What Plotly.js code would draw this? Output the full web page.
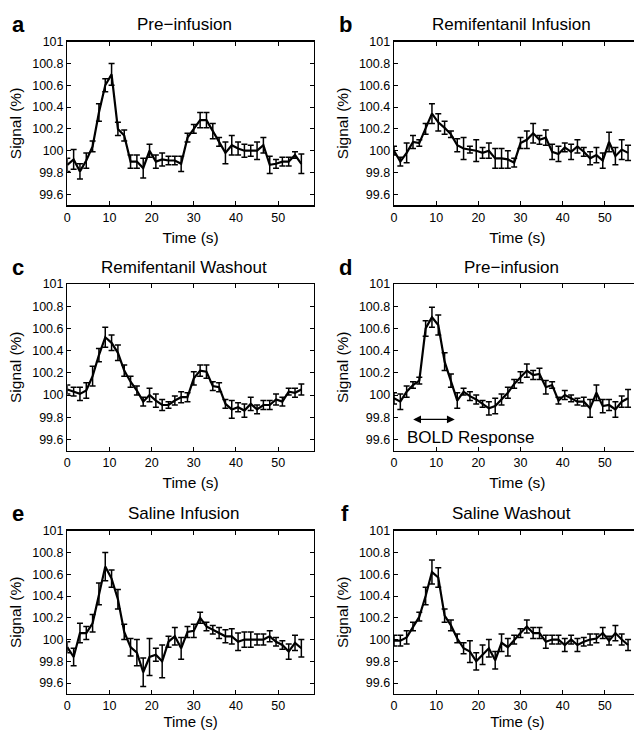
<!DOCTYPE html>
<html>
<head>
<meta charset="utf-8">
<script src="https://cdn.plot.ly/plotly-3.0.1.min.js"></script>
<style>
html,body{margin:0;padding:0;overflow:hidden;background:#fff;width:634px;height:731px;}
#chart{width:642px;height:731px;}
</style>
</head>
<body>
<div id="chart"></div>
<script>
// ---- data ----
const time = [0,1.5,3,4.5,6,7.5,9,10.5,12,13.5,15,16.5,18,19.5,21,22.5,24,25.5,27,28.5,30,31.5,33,34.5,36,37.5,39,40.5,42,43.5,45,46.5,48,49.5,51,52.5,54,55.5];

const panelLetters = ["a","b","c","d","e","f"];
const panelTitles = ["Pre\u2212infusion","Remifentanil Infusion","Remifentanil Washout","Pre\u2212infusion","Saline Infusion","Saline Washout"];

const sigA = [99.87,99.92,99.81,99.91,100.04,100.35,100.6,100.7,100.2,100.14,99.9,99.9,99.84,100.0,99.9,99.92,99.91,99.91,99.88,100.12,100.2,100.28,100.28,100.18,100.08,99.98,100.05,100.02,100.0,100.0,100.0,100.05,99.87,99.88,99.9,99.9,99.96,99.88];
const errA = [0.06,0.09,0.07,0.07,0.05,0.08,0.06,0.1,0.06,0.05,0.06,0.06,0.09,0.06,0.06,0.06,0.04,0.04,0.07,0.04,0.04,0.07,0.07,0.07,0.04,0.1,0.09,0.06,0.06,0.05,0.08,0.07,0.08,0.04,0.04,0.04,0.03,0.09];

const sigB = [100.0,99.9,99.98,100.08,100.07,100.2,100.34,100.26,100.21,100.15,100.05,100.02,100.01,100.0,99.98,100.0,99.93,99.93,99.92,99.89,100.07,100.1,100.16,100.1,100.12,99.99,99.97,100.03,99.99,100.04,99.99,99.93,99.96,99.91,100.08,99.95,100.01,99.98];
const errB = [0.04,0.04,0.09,0.06,0.03,0.05,0.09,0.08,0.06,0.03,0.06,0.1,0.03,0.1,0.05,0.07,0.09,0.09,0.08,0.04,0.05,0.08,0.09,0.04,0.07,0.07,0.07,0.04,0.07,0.06,0.04,0.06,0.07,0.07,0.09,0.08,0.09,0.07];

const sigC = [100.05,100.03,100.01,100.04,100.17,100.36,100.52,100.47,100.38,100.22,100.12,100.04,99.94,100.0,99.95,99.91,99.91,99.95,99.98,99.98,100.15,100.22,100.21,100.08,100.07,99.92,99.87,99.89,99.86,99.92,99.87,99.91,99.91,99.96,99.94,100.03,100.02,100.05];
const errC = [0.04,0.04,0.06,0.07,0.09,0.06,0.09,0.07,0.07,0.05,0.05,0.04,0.04,0.06,0.06,0.05,0.03,0.04,0.05,0.04,0.06,0.05,0.06,0.04,0.04,0.04,0.08,0.04,0.06,0.06,0.04,0.04,0.04,0.05,0.04,0.03,0.04,0.05];

const sigD = [99.97,99.94,100.03,100.09,100.13,100.6,100.7,100.63,100.3,100.13,99.95,100.03,99.99,99.96,99.92,99.88,99.9,99.96,100.02,100.1,100.16,100.22,100.18,100.19,100.07,100.09,99.95,100.0,99.97,99.94,99.94,99.88,100.02,99.9,99.91,99.87,99.94,99.97];
const errD = [0.05,0.07,0.05,0.03,0.03,0.07,0.09,0.09,0.08,0.06,0.07,0.03,0.04,0.04,0.03,0.06,0.07,0.05,0.05,0.04,0.05,0.06,0.04,0.05,0.06,0.03,0.03,0.04,0.03,0.03,0.04,0.08,0.07,0.06,0.05,0.07,0.05,0.08];

const sigE = [99.93,99.84,100.06,100.06,100.15,100.42,100.67,100.56,100.37,100.07,99.93,99.88,99.7,99.84,99.86,99.8,99.98,100.03,99.92,100.07,100.08,100.2,100.12,100.09,100.06,100.03,100.03,99.98,100.0,100.0,100.0,100.0,100.03,99.98,99.95,99.89,99.97,99.92];
const errE = [0.05,0.08,0.09,0.06,0.08,0.1,0.13,0.08,0.09,0.07,0.08,0.12,0.13,0.17,0.06,0.15,0.05,0.08,0.1,0.05,0.06,0.05,0.04,0.04,0.05,0.06,0.07,0.08,0.07,0.07,0.05,0.05,0.05,0.04,0.04,0.07,0.07,0.08];

const sigF = [99.99,99.99,100.02,100.12,100.21,100.4,100.62,100.57,100.22,100.13,100.01,99.92,99.89,99.8,99.86,99.92,99.81,99.97,99.93,100.0,100.06,100.12,100.06,100.06,99.98,100.0,100.0,99.95,100.0,99.95,99.98,100.0,100.01,100.06,99.99,100.06,100.0,99.95];
const errF = [0.05,0.05,0.06,0.04,0.04,0.08,0.11,0.09,0.06,0.05,0.04,0.05,0.1,0.08,0.09,0.08,0.08,0.08,0.08,0.04,0.04,0.06,0.05,0.05,0.06,0.04,0.04,0.06,0.04,0.06,0.04,0.05,0.04,0.05,0.04,0.07,0.05,0.05];

const yTickVals = [99.6,99.8,100,100.2,100.4,100.6,100.8,101];
const yTickText = ["99.6","99.8","100","100.2","100.4","100.6","100.8","101"];
const xTickVals = [0,10,20,30,40,50];
const xTickText = ["0","10","20","30","40","50"];

const boldLabel = "BOLD Response";
const boldArrowFrom = 4.2, boldArrowTo = 14.4, boldArrowLevel = 99.78;
const boldTextX = 18.2, boldTextY = 99.62;

// ---- layout ----
const W = 642, H = 731;
const FONT = "'Liberation Sans', Arial, Helvetica, sans-serif";
const colPx = [[67.3, 314.0],[394.0, 640.7]];
const rowPx = [[41.7, 205.2],[284.0, 450.5],[530.7, 694.0]];
const xTitleStandoff = [8, 8, 3];

const series = [[sigA,errA],[sigB,errB],[sigC,errC],[sigD,errD],[sigE,errE],[sigF,errF]];

const traces = [];
const layout = {
  width: W, height: H,
  margin: {l:0,r:0,t:0,b:0},
  paper_bgcolor: "#fff", plot_bgcolor: "#fff",
  showlegend: false,
  font: {family: FONT, color: "#000", size: 12},
  annotations: []
};

series.forEach((s, i) => {
  const col = i % 2, row = Math.floor(i / 2);
  const n = i === 0 ? "" : String(i + 1);
  traces.push({
    type: "scatter", mode: "lines",
    x: time, y: s[0],
    xaxis: "x" + n, yaxis: "y" + n,
    line: {color: "#000", width: 2.2},
    error_y: {type: "data", array: s[1], visible: true, color: "#000", thickness: 1.5, width: 3},
    hoverinfo: "skip"
  });
  const xd = [colPx[col][0] / W, colPx[col][1] / W];
  const yd = [1 - rowPx[row][1] / H, 1 - rowPx[row][0] / H];
  layout["xaxis" + n] = {
    domain: xd, anchor: "y" + n, range: [0, 58.5],
    tickvals: xTickVals, ticktext: xTickText,
    ticks: "inside", ticklen: 4, tickwidth: 1, tickcolor: "#000",
    showline: true, linecolor: "#000", linewidth: 1.3, mirror: "allticks",
    showgrid: false, zeroline: false,
    tickfont: {family: FONT, size: 12.5, color: "#000"},
    title: {text: "Time (s)", font: {family: FONT, size: row === 2 ? 15 : 15.5, color: "#000"}, standoff: xTitleStandoff[row]},
    automargin: false
  };
  layout["yaxis" + n] = {
    domain: yd, anchor: "x" + n, range: [99.5, 101],
    tickvals: yTickVals, ticktext: yTickText,
    ticks: "inside", ticklen: 4, tickwidth: 1, tickcolor: "#000",
    showline: true, linecolor: "#000", linewidth: 1.3, mirror: "allticks",
    showgrid: false, zeroline: false,
    tickfont: {family: FONT, size: 12.5, color: "#000"},
    title: {text: "Signal (%)", font: {family: FONT, size: 15.5, color: "#000"}, standoff: 6},
    automargin: false
  };
  // panel title
  layout.annotations.push({
    xref: "paper", yref: "paper",
    x: (colPx[col][0] + 117) / W, y: 1 - (rowPx[row][0] - 17) / H,
    xanchor: "center", yanchor: "middle", showarrow: false,
    text: panelTitles[i], font: {family: FONT, size: 17, color: "#000"}
  });
  // panel letter
  layout.annotations.push({
    xref: "paper", yref: "paper",
    x: (colPx[col][0] - 49) / W, y: 1 - (rowPx[row][0] - 17) / H,
    xanchor: "center", yanchor: "middle", showarrow: false,
    text: "<b>" + panelLetters[i] + "</b>", font: {family: FONT, size: 22, color: "#000"}
  });
});

// BOLD response arrow and label (panel d)
layout.annotations.push({
  xref: "x4", yref: "y4", axref: "x4", ayref: "y4",
  x: boldArrowTo, y: boldArrowLevel, ax: boldArrowFrom, ay: boldArrowLevel,
  text: "", showarrow: true, arrowside: "end+start",
  arrowhead: 2, arrowsize: 1.3, arrowwidth: 1.2, arrowcolor: "#000",
  standoff: 0, startstandoff: 0
});
layout.annotations.push({
  xref: "x4", yref: "y4", x: boldTextX, y: boldTextY,
  xanchor: "center", yanchor: "middle", showarrow: false,
  text: boldLabel, font: {family: FONT, size: 17, color: "#000"}
});

Plotly.newPlot("chart", traces, layout, {staticPlot: true, displayModeBar: false});
</script>
</body>
</html>
